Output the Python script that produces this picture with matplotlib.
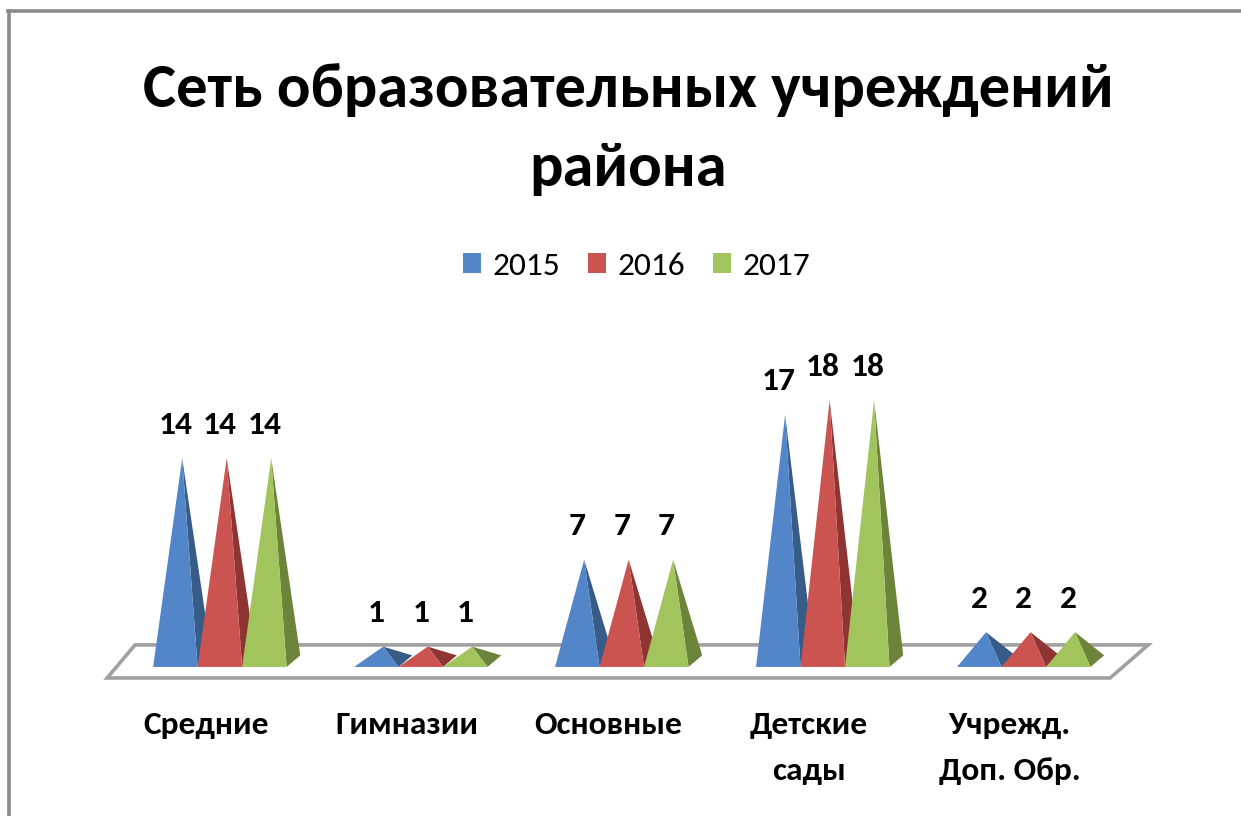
import matplotlib
matplotlib.use("Agg")
import matplotlib.pyplot as plt
from matplotlib.patches import Polygon, Patch
from matplotlib.lines import Line2D
from matplotlib import font_manager

# ---- data ----
categories = ["Средние", "Гимназии", "Основные", "Детские\nсады", "Учрежд.\nДоп. Обр."]
series_names = ["2015", "2016", "2017"]
values_2015 = [14, 1, 7, 17, 2]
values_2016 = [14, 1, 7, 18, 2]
values_2017 = [14, 1, 7, 18, 2]
title_text = "Сеть образовательных учреждений\nрайона"

series_values = [values_2015, values_2016, values_2017]
front_colors = ["#5286C8", "#CC5450", "#A2C45C"]
side_colors = ["#375C88", "#8E3533", "#6B843A"]

available = {f.name for f in font_manager.fontManager.ttflist}
if "Carlito" in available:
    FONT = "Carlito"
    sizes = dict(title=45, cat=24, val=24, leg=24)
else:
    FONT = "Open Sans"
    sizes = dict(title=38, cat=21, val=21, leg=20.8)

fig = plt.figure(figsize=(12.41, 8.16), dpi=100)
ax = fig.add_axes([0, 0, 1, 1])
ax.set_xlim(-1.094, 5.081)
ax.set_ylim(-10.28, 46.0)
ax.axis("off")

# frame lines (chart border)
fig.add_artist(Line2D([0.0065, 1.0], [0.9865, 0.9865], transform=fig.transFigure,
                      color="#8a8a8a", lw=2.6))
fig.add_artist(Line2D([0.0072, 0.0072], [0.0, 0.9865], transform=fig.transFigure,
                      color="#8a8a8a", lw=2.6))

# 3D geometry parameters
w = 0.2214     # pyramid front width (category units)
dx = 0.068     # depth shift in x
dy = 0.80      # depth shift in value units
n = len(categories)

# floor
floor = Polygon([(-0.561, -0.76), (n - 1 + 0.43, -0.76), (n - 1 + 0.619, 1.52), (-0.422, 1.52)],
                closed=True, facecolor="white", edgecolor="#a0a0a0", lw=2.6, zorder=1)
ax.add_patch(floor)

z = 2
for i in range(n):
    for j, vals in enumerate(series_values):
        v = vals[i]
        x0 = i - 1.5 * w + j * w
        apex = (x0 + w / 2 + dx / 2, v + dy / 2)
        front = Polygon([(x0, 0), (x0 + w, 0), apex], closed=True,
                        facecolor=front_colors[j], edgecolor="none", zorder=z + 1)
        side = Polygon([(x0 + w, 0), (x0 + w + dx, dy), apex], closed=True,
                       facecolor=side_colors[j], edgecolor="none", zorder=z)
        ax.add_patch(side)
        ax.add_patch(front)
        z += 2
        ax.annotate(str(v), xy=(x0 + w / 2, v + dy / 2), xytext=(0, 24),
                    textcoords="offset points", ha="center", va="center",
                    fontsize=sizes["val"], fontweight="bold", family=FONT, zorder=100)
    ax.text(i - 0.07, -3.03, categories[i], ha="center", va="top", fontsize=sizes["cat"],
            fontweight="bold", family=FONT, linespacing=1.8)

title_lines = title_text.split("\n")
title_baselines = [1 - 107 / 816, 1 - 186 / 816]
for line, yb in zip(title_lines, title_baselines):
    fig.text(0.506, yb, line, ha="center", va="baseline", fontsize=sizes["title"],
             fontweight="bold", family=FONT)

handles = [Patch(facecolor=c, edgecolor="none") for c in front_colors]
leg = fig.legend(handles, series_names, loc="center", bbox_to_anchor=(0.513, 0.674),
                 ncol=3, frameon=False, prop={"family": FONT, "size": sizes["leg"]},
                 handlelength=0.52, handleheight=0.52, handletextpad=0.35,
                 columnspacing=0.85)

fig.savefig("out.png", dpi=100)
